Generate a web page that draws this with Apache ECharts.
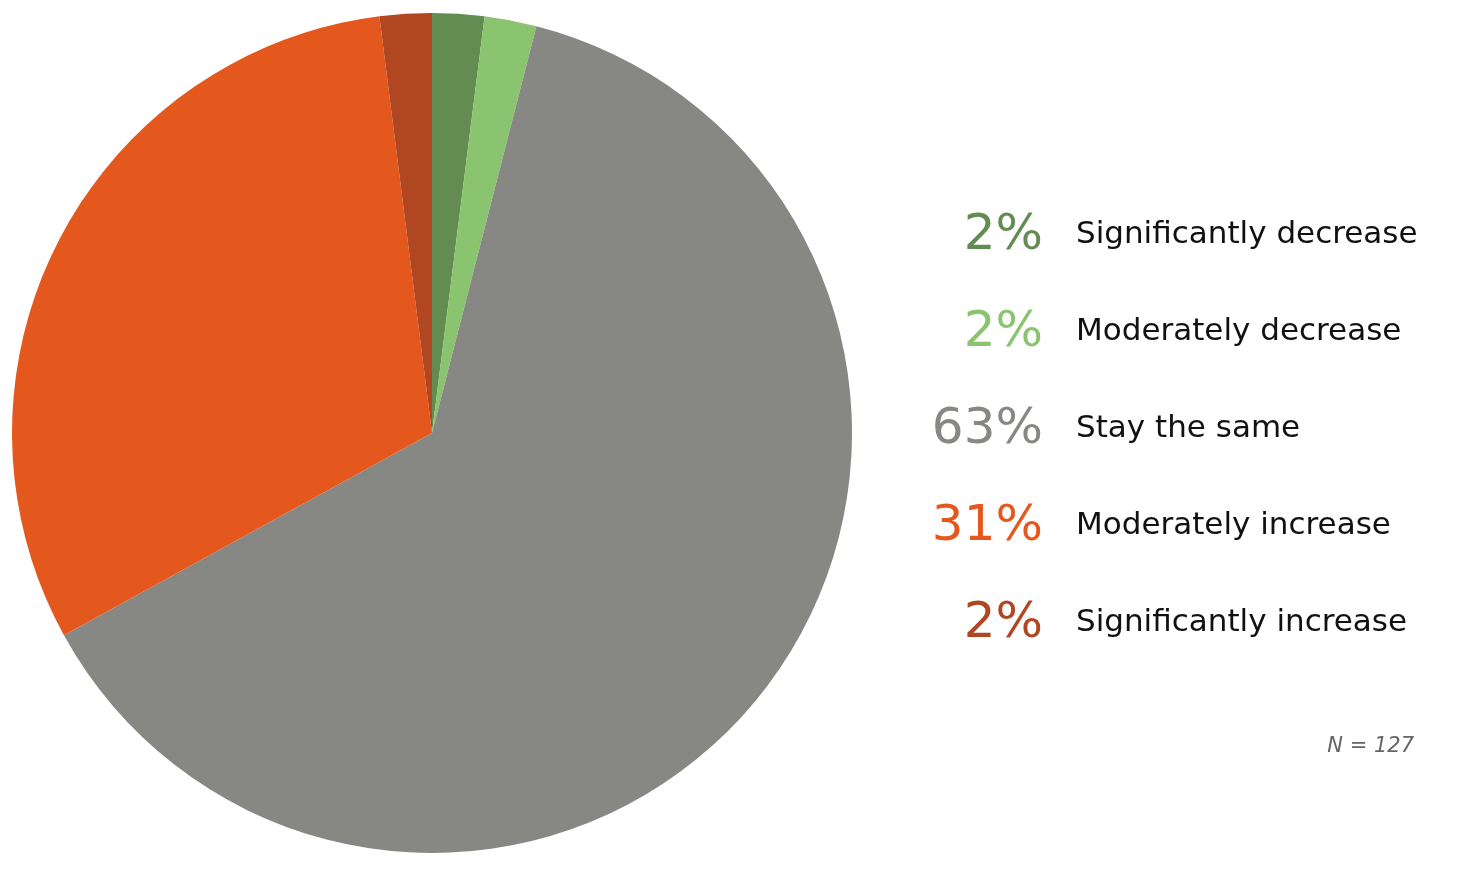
<!DOCTYPE html>
<html>
<head>
<meta charset="utf-8">
<script src="https://cdn.jsdelivr.net/npm/echarts@6/dist/echarts.min.js"></script>
<style>
html,body{margin:0;padding:0;background:#fff;}
#chart{width:1484px;height:880px;}
</style>
</head>
<body>
<div id="chart"></div>
<script>
const categories = ['Significantly decrease', 'Moderately decrease', 'Stay the same', 'Moderately increase', 'Significantly increase'];
const values = [2, 2, 63, 31, 2];
const colors = ['#628C52', '#8BC46E', '#878783', '#E5581D', '#B04622'];
const noteText = 'N = 127';

const chart = echarts.init(document.getElementById('chart'));

const rowTop = 235, rowGap = 97;
const graphics = [];
categories.forEach((c, i) => {
  const y = rowTop + i * rowGap;
  graphics.push({
    type: 'text', x: 1043, y: y + 1,
    style: { text: values[i] + '%', font: '50px "DejaVu Sans"', fill: colors[i], align: 'right', verticalAlign: 'middle' }
  });
  graphics.push({
    type: 'text', x: 1076, y: y,
    style: { text: c, font: '31px "DejaVu Sans"', fill: '#111', align: 'left', verticalAlign: 'middle' }
  });
});
graphics.push({
  type: 'text', x: 1414, y: 747,
  style: { text: noteText, font: 'italic 21px "DejaVu Sans"', fill: '#666', align: 'right', verticalAlign: 'middle' }
});

chart.setOption({
  animation: false,
  color: colors,
  graphic: graphics,
  series: [{
    type: 'pie',
    center: [432, 433],
    radius: [0, 420],
    startAngle: 90,
    clockwise: true,
    label: { show: false },
    labelLine: { show: false },
    itemStyle: { borderWidth: 0 },
    emphasis: { disabled: true },
    data: categories.map((c, i) => ({ name: c, value: values[i] }))
  }]
});
</script>
</body>
</html>
